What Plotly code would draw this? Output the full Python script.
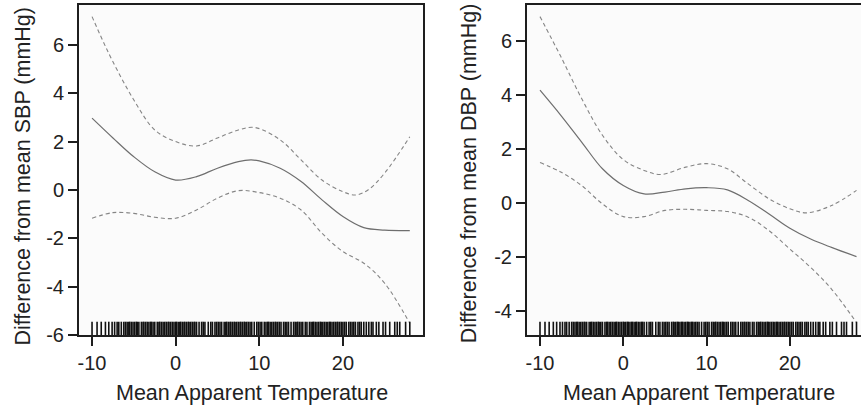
import plotly.graph_objects as go

# smooth fit for SBP panel (value, lower, upper)
sbp_x = [-10, -7.5, -5, -2.5, 0, 2.5, 5, 7.5, 9, 10, 12.5, 15, 17.5, 20, 22.5, 25, 28]
sbp_fit = [2.97, 2.15, 1.37, 0.75, 0.41, 0.55, 0.9, 1.17, 1.24, 1.2, 0.9, 0.35, -0.41, -1.1, -1.56, -1.66, -1.68]

sbp_up_x = [-10, -8.75, -7.5, -5, -2.5, 0, 2.5, 5, 7.5, 9.5, 12.5, 15, 17.5, 20, 21.5, 23, 25, 28]
sbp_up = [7.17, 6.2, 5.3, 3.72, 2.48, 2.0, 1.82, 2.15, 2.48, 2.58, 2.07, 1.24, 0.41, -0.07, -0.21, 0.0, 0.7, 2.2]

sbp_lo_x = [-10, -7.5, -5, -2.5, 0, 2.5, 5, 7.5, 10, 12.5, 15, 17.5, 20, 22.5, 25, 28]
sbp_lo = [-1.17, -0.94, -0.97, -1.13, -1.17, -0.83, -0.34, -0.03, -0.11, -0.34, -0.83, -1.79, -2.55, -3.03, -3.86, -5.52]

# smooth fit for DBP panel
dbp_x = [-10, -7.5, -5, -2.5, 0, 2.5, 5, 7.5, 10, 12.5, 15, 17.5, 20, 22.5, 25, 28]
dbp_fit = [4.17, 3.24, 2.25, 1.26, 0.64, 0.33, 0.4, 0.52, 0.56, 0.48, 0.09, -0.41, -0.94, -1.34, -1.65, -1.99]

dbp_up_x = [-10, -7.5, -5, -2.5, 0, 2.5, 4.5, 7.5, 10, 12.5, 15, 17.5, 20, 22, 25, 28]
dbp_up = [6.89, 5.41, 3.86, 2.5, 1.6, 1.2, 1.05, 1.32, 1.45, 1.26, 0.7, 0.15, -0.22, -0.37, -0.1, 0.46]

dbp_lo_x = [-10, -7.5, -5, -2.5, 0, 2.5, 5, 7.5, 10, 12.5, 15, 17.5, 20, 22.5, 25, 28]
dbp_lo = [1.49, 1.14, 0.64, -0.04, -0.51, -0.51, -0.28, -0.24, -0.28, -0.32, -0.53, -1.03, -1.71, -2.39, -3.19, -4.43]

# observed mean apparent temperatures (rug)
temps = [-10.0, -9.4, -8.9, -8.4, -8.0, -7.6, -7.3, -7.0, -6.8, -6.5,
         -6.2, -6.0, -5.8, -5.6, -5.5, -5.3, -5.1, -4.9, -4.7, -4.6, -4.4, -4.1,
         -3.9, -3.8, -3.6, -3.4, -3.2, -3.0, -2.9, -2.7, -2.5, -2.2, -2.0, -1.9,
         -1.7, -1.5, -1.3, -1.1, -0.9, -0.8, -0.6, -0.4, -0.2, 0.0, 0.1, 0.3, 0.5,
         0.6, 0.8, 1.0, 1.1, 1.3, 1.5, 1.6, 1.8, 2.0, 2.2, 2.3, 2.5, 2.8, 3.1, 3.3,
         3.5, 3.9, 4.2, 4.4, 4.7, 4.9, 5.1, 5.3, 5.5, 5.8, 6.0, 6.1, 6.3, 6.5, 6.6,
         6.8, 7.0, 7.1, 7.3, 7.5, 7.7, 7.8, 8.0, 8.2, 8.3, 8.5, 8.7, 8.9, 9.1, 9.4,
         9.7, 9.9, 10.1, 10.3, 10.6, 10.8, 11.0, 11.1, 11.3, 11.5, 11.7, 11.9, 12.0,
         12.2, 12.4, 12.6, 12.9, 13.1, 13.3, 13.5, 13.8, 14.1, 14.3, 14.5, 14.6,
         14.8, 15.0, 15.2, 15.5, 15.7, 16.0, 16.2, 16.4, 16.5, 16.7, 16.9, 17.1,
         17.3, 17.4, 17.6, 17.8, 18.0, 18.2, 18.4, 18.5, 18.7, 18.9, 19.1, 19.3,
         19.4, 19.6, 19.8, 20.0, 20.2, 20.4, 20.7, 20.9, 21.1, 21.3, 21.5, 21.8,
         22.0, 22.2, 22.5, 22.8, 23.1, 23.4, 23.6, 24.0, 24.3, 24.8, 25.1, 25.6,
         26.2, 26.5, 26.8, 27.5, 28.0]

x_ticks = [-10, 0, 10, 20]
sbp_ticks = [-6, -4, -2, 0, 2, 4, 6]
dbp_ticks = [-4, -2, 0, 2, 4, 6]
sbp_range = [-6, 7.65]
dbp_range = [-4.89, 7.32]

FONT = "Liberation Sans, Arial, sans-serif"
TXT = "#222222"
fit_line = dict(color="#6e6e6e", width=1.2)
ci_line = dict(color="#858585", width=1.1, dash="4px,3px")

fig = go.Figure()

panels = [
    ("x", "y", sbp_x, sbp_fit, sbp_up_x, sbp_up, sbp_lo_x, sbp_lo, sbp_range),
    ("x2", "y2", dbp_x, dbp_fit, dbp_up_x, dbp_up, dbp_lo_x, dbp_lo, dbp_range),
]
for xa, ya, fx, fy, ux, uy, lx, ly, yr in panels:
    fig.add_trace(go.Scatter(x=fx, y=fy, mode="lines", line=dict(shape="spline", **fit_line),
                             xaxis=xa, yaxis=ya, showlegend=False))
    fig.add_trace(go.Scatter(x=ux, y=uy, mode="lines", line=dict(shape="spline", **ci_line),
                             xaxis=xa, yaxis=ya, showlegend=False))
    fig.add_trace(go.Scatter(x=lx, y=ly, mode="lines", line=dict(shape="spline", **ci_line),
                             xaxis=xa, yaxis=ya, showlegend=False))
    # rug along the bottom edge (lower half of each mark is clipped away)
    fig.add_trace(go.Scatter(x=temps, y=[yr[0]] * len(temps), mode="markers", cliponaxis=True,
                             marker=dict(symbol="line-ns-open", size=19, color="#111111",
                                         line=dict(color="#111111", width=1.6)),
                             xaxis=xa, yaxis=ya, showlegend=False))

axis_common = dict(showgrid=False, zeroline=False, showline=True, linecolor="#1e1e1e",
                   linewidth=2, ticks="outside", ticklen=9, tickwidth=1.5,
                   tickcolor="#1e1e1e", tickfont=dict(family=FONT, size=20, color=TXT))

fig.update_layout(
    width=861, height=412,
    margin=dict(l=0, r=0, t=5, b=77, autoexpand=False),
    paper_bgcolor="white",
    plot_bgcolor="#fbfbfb",
    xaxis=dict(domain=[79 / 861, 423 / 861], range=[-11.56, 29.58], tickvals=x_ticks,
               ticktext=[str(v) for v in x_ticks], mirror=True, anchor="y", **axis_common),
    yaxis=dict(domain=[0, 1], range=sbp_range, tickvals=sbp_ticks,
               ticktext=[str(v) for v in sbp_ticks], mirror=True, anchor="x", **axis_common),
    xaxis2=dict(domain=[527 / 861, 1], range=[-11.56, 28.54], tickvals=x_ticks,
                ticktext=[str(v) for v in x_ticks], mirror=True, anchor="y2", **axis_common),
    yaxis2=dict(domain=[0, 1], range=dbp_range, tickvals=dbp_ticks,
                ticktext=[str(v) for v in dbp_ticks], mirror=False, anchor="x2", **axis_common),
)

title_font = dict(family=FONT, size=21.5, color=TXT)
for x, y, text, angle in [
    (252 / 861, -0.176, "Mean Apparent Temperature", 0),
    (699 / 861, -0.176, "Mean Apparent Temperature", 0),
    (23 / 861, 0.48, "Difference from mean SBP (mmHg)", -90),
    (469 / 861, 0.49, "Difference from mean DBP (mmHg)", -90),
]:
    fig.add_annotation(x=x, y=y, xref="paper", yref="paper", text=text, showarrow=False,
                       textangle=angle, font=title_font, xanchor="center", yanchor="middle")

fig.write_html("out.html", config={"displayModeBar": False},
               post_script="document.body.style.margin='0';")
